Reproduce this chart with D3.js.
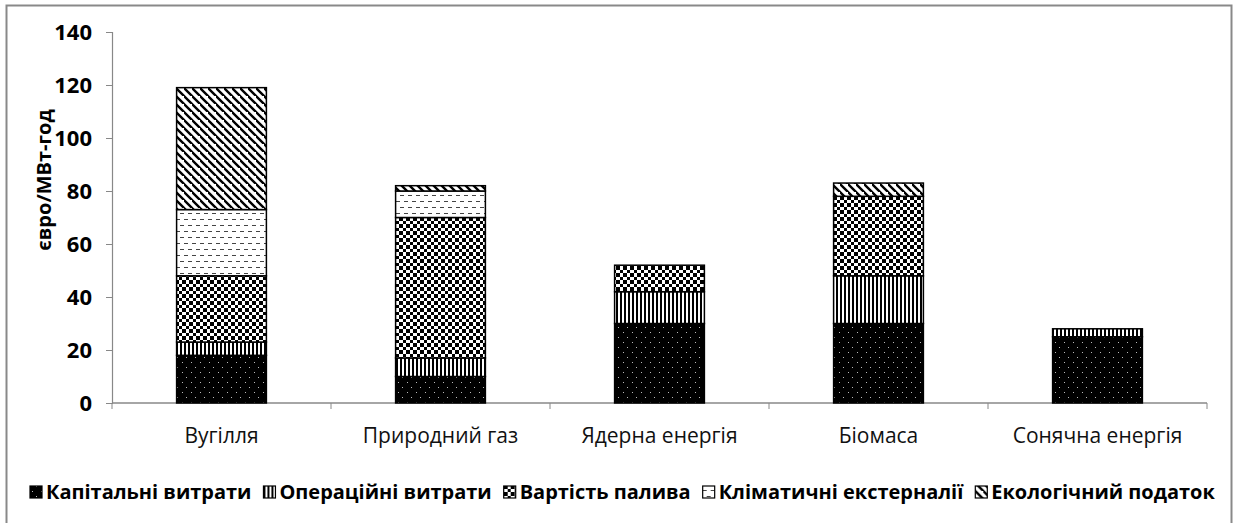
<!DOCTYPE html>
<html>
<head>
<meta charset="utf-8">
<script src="https://cdn.jsdelivr.net/npm/d3@7"></script>
<style>
  body { margin: 0; background: #fff; }
  svg { display: block; font-family: "Open Sans", "Noto Sans", sans-serif; }
</style>
</head>
<body>
<svg id="chart" width="1235" height="523"></svg>
<script>
// data
const categories = ['Вугілля', 'Природний газ', 'Ядерна енергія', 'Біомаса', 'Сонячна енергія'];
const seriesNames = ['Капітальні витрати', 'Операційні витрати', 'Вартість палива', 'Кліматичні екстерналії', 'Екологічний податок'];
const capital     = [18, 10, 30, 30, 25];
const operational = [5, 7, 12, 18, 3];
const fuel        = [25, 53, 10, 30, 0];
const climate     = [25, 10, 0, 0, 0];
const ecoTax      = [46, 2, 0, 5, 0];
const yTicks = [0, 20, 40, 60, 80, 100, 120, 140];

const series = [capital, operational, fuel, climate, ecoTax];
const patternIds = ['p-cap', 'p-op', 'p-fuel', 'p-clim', 'p-eco'];

const width = 1235, height = 523;
const margin = { left: 112, right: 28, top: 32, bottom: 120 };

const svg = d3.select('#chart');

// outer frame
svg.append('rect')
  .attr('x', 6.5).attr('y', 5.5)
  .attr('width', 1225).attr('height', 530)
  .attr('fill', 'none').attr('stroke', '#898989').attr('stroke-width', 2);

// patterns
const defs = svg.append('defs');

const pCap = defs.append('pattern').attr('id', 'p-cap')
  .attr('patternUnits', 'userSpaceOnUse').attr('width', 9).attr('height', 10);
pCap.append('rect').attr('width', 9).attr('height', 10).attr('fill', '#000');
pCap.append('rect').attr('x', 2).attr('y', 2).attr('width', 1).attr('height', 1).attr('fill', '#bbb');
pCap.append('rect').attr('x', 6).attr('y', 7).attr('width', 1).attr('height', 1).attr('fill', '#bbb');

const pOp = defs.append('pattern').attr('id', 'p-op')
  .attr('patternUnits', 'userSpaceOnUse').attr('width', 4).attr('height', 4);
pOp.append('rect').attr('width', 4).attr('height', 4).attr('fill', '#fff');
pOp.append('rect').attr('width', 2).attr('height', 4).attr('fill', '#000');

const pFuel = defs.append('pattern').attr('id', 'p-fuel')
  .attr('patternUnits', 'userSpaceOnUse').attr('width', 7).attr('height', 7);
pFuel.append('rect').attr('width', 7).attr('height', 7).attr('fill', '#fff');
pFuel.append('rect').attr('width', 4).attr('height', 4).attr('fill', '#000');
pFuel.append('rect').attr('x', 4).attr('y', 4).attr('width', 3).attr('height', 3).attr('fill', '#000');

const pClim = defs.append('pattern').attr('id', 'p-clim')
  .attr('patternUnits', 'userSpaceOnUse').attr('width', 8).attr('height', 12);
pClim.append('rect').attr('width', 8).attr('height', 12).attr('fill', '#fff');
pClim.append('rect').attr('x', 0).attr('y', 3).attr('width', 4).attr('height', 1).attr('fill', '#444');
pClim.append('rect').attr('x', 4).attr('y', 9).attr('width', 4).attr('height', 1).attr('fill', '#444');

const pEco = defs.append('pattern').attr('id', 'p-eco')
  .attr('patternUnits', 'userSpaceOnUse').attr('width', 8).attr('height', 8);
pEco.append('rect').attr('width', 8).attr('height', 8).attr('fill', '#fff');
pEco.append('path').attr('d', 'M-2,-2 L10,10 M-6,2 L2,10 M6,-6 L14,2')
  .attr('stroke', '#000').attr('stroke-width', 2.4);

// scales
const x = d3.scaleBand().domain(categories)
  .range([margin.left, width - margin.right]).paddingInner(0.59).paddingOuter(0.295);
const xOuter = d3.scaleBand().domain(categories).range([margin.left, width - margin.right]);
const y = d3.scaleLinear().domain([0, 140]).range([height - margin.bottom, margin.top]);

// stacked data
const rows = categories.map((c, i) => {
  const r = { cat: c };
  seriesNames.forEach((s, k) => { r[s] = series[k][i]; });
  return r;
});
const stacked = d3.stack().keys(seriesNames)(rows);

// y axis
const yAxis = svg.append('g').attr('transform', `translate(${margin.left},0)`)
  .call(d3.axisLeft(y).tickValues(yTicks).tickSize(6).tickPadding(14));
yAxis.attr('font-size', null).attr('font-family', null);
yAxis.select('.domain').attr('stroke', '#888').attr('stroke-width', 1.2);
yAxis.selectAll('.tick line').attr('stroke', '#888');
yAxis.selectAll('.tick text')
  .style('font-size', '22px').style('font-weight', 'bold').attr('fill', '#000');

// x axis
const xAxisG = svg.append('g').attr('transform', `translate(0,${y(0)})`);
xAxisG.append('line').attr('x1', margin.left).attr('x2', width - margin.right)
  .attr('stroke', '#888').attr('stroke-width', 1.6);
const bounds = [margin.left].concat(categories.map(c => xOuter(c) + xOuter.bandwidth()));
xAxisG.selectAll('.bt').data(bounds).enter().append('line')
  .attr('x1', d => d).attr('x2', d => d).attr('y1', 0).attr('y2', 6)
  .attr('stroke', '#888');
xAxisG.selectAll('.xl').data(categories).enter().append('text')
  .attr('x', d => xOuter(d) + xOuter.bandwidth() / 2)
  .attr('y', 40)
  .attr('text-anchor', 'middle')
  .style('font-size', '21px').attr('fill', '#111')
  .text(d => d);

// y label
svg.append('text')
  .attr('transform', `translate(51,${180}) rotate(-90)`)
  .attr('text-anchor', 'middle')
  .style('font-size', '20px').style('font-weight', 'bold')
  .text('євро/МВт-год');

// bars
stacked.forEach((layer, k) => {
  svg.append('g').selectAll('rect').data(layer.filter(d => d[1] - d[0] > 0)).enter()
    .append('rect')
    .attr('x', d => x(d.data.cat))
    .attr('width', x.bandwidth())
    .attr('y', d => y(d[1]))
    .attr('height', d => y(d[0]) - y(d[1]))
    .attr('fill', `url(#${patternIds[k]})`)
    .attr('stroke', '#000').attr('stroke-width', 1.5);
});

// legend
const legend = svg.append('g');
const fontSize = 16;
const items = legend.selectAll('g').data(seriesNames).enter().append('g');
items.append('rect').attr('width', 12).attr('height', 12).attr('y', -13)
  .attr('fill', (d, i) => `url(#${patternIds[i]})`)
  .attr('stroke', '#000').attr('stroke-width', 1.2);
const texts = items.append('text').attr('x', 16).attr('y', 0)
  .style('font-size', fontSize + 'px').style('font-weight', 'bold').text(d => d);

// fit legend into the span seen in the picture
const targetLeft = 30, targetRight = 1215, gap = 12;
let widths = texts.nodes().map(n => n.getComputedTextLength());
const fixed = seriesNames.length * 16 + gap * (seriesNames.length - 1);
const k = (targetRight - targetLeft - fixed) / d3.sum(widths);
texts.style('font-size', (fontSize * k) + 'px');
widths = texts.nodes().map(n => n.getComputedTextLength());
let cx = targetLeft;
items.attr('transform', (d, i) => {
  const t = `translate(${cx},499)`;
  cx += 16 + widths[i] + gap;
  return t;
});
</script>
</body>
</html>
